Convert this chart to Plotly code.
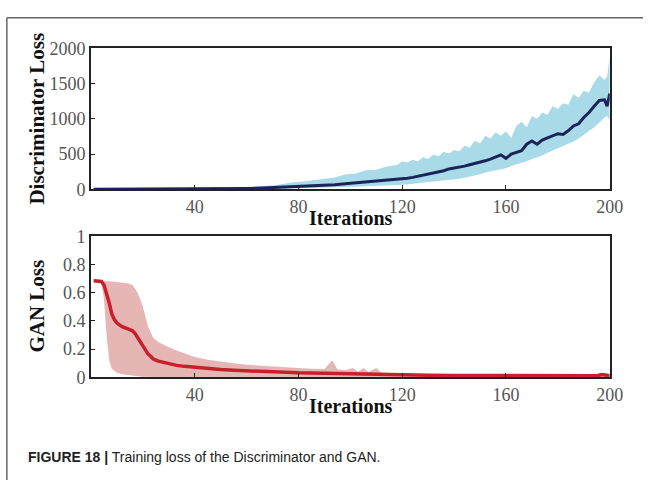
import plotly.graph_objects as go

# Discriminator loss: mean and spread over training iterations
disc_iter = [1, 10, 20, 30, 40, 50, 60, 66, 70, 74, 78, 82, 86, 90, 94, 98, 102, 106, 110,
             114, 118, 120, 122, 124, 126, 128, 130, 132, 134, 136, 138, 140, 142, 144, 146,
             148, 150, 152, 154, 156, 158, 160, 162, 164, 166, 168, 170, 172, 174, 176, 178,
             180, 182, 184, 186, 188, 190, 192, 194, 196, 198, 199, 200]
disc_mean = [0, 1, 1, 2, 3, 6, 12, 18, 24, 30, 38, 44, 50, 58, 66, 80, 92, 105, 118,
             135, 145, 150, 158, 170, 185, 200, 215, 235, 250, 265, 290, 300, 315, 330, 350,
             365, 385, 405, 430, 460, 490, 440, 500, 525, 550, 640, 685, 640, 700, 730, 755,
             790, 780, 830, 900, 930, 1020, 1090, 1180, 1260, 1270, 1180, 1360]
disc_low = [0, 0, 0, 0, 0, 1, 3, 5, 8, 10, 14, 16, 20, 25, 28, 32, 37, 42, 48,
            55, 60, 62, 70, 80, 88, 95, 100, 110, 115, 120, 130, 140, 150, 165, 180,
            195, 215, 240, 255, 270, 290, 300, 330, 350, 375, 400, 430, 450, 480, 520, 550,
            590, 620, 650, 680, 720, 770, 830, 880, 950, 1020, 1040, 980]
disc_high = [0, 2, 3, 5, 8, 14, 28, 40, 55, 75, 100, 110, 130, 145, 170, 210, 225, 270, 280,
             325, 345, 400, 380, 420, 400, 455, 430, 495, 470, 530, 510, 560, 540, 620, 590,
             690, 650, 760, 720, 810, 760, 820, 730, 900, 960, 880, 1040, 1000, 1090, 1060, 1180,
             1140, 1220, 1200, 1350, 1300, 1400, 1370, 1520, 1620, 1550, 1600, 1880]

# GAN loss: mean and spread over training iterations
gan_iter = [1, 3, 4, 5, 6, 7, 8, 9, 10, 12, 14, 16, 17, 18, 19, 20, 21, 22, 23, 24, 26, 28,
            30, 33, 36, 40, 45, 50, 55, 60, 65, 70, 75, 80, 85, 90, 93, 95, 98, 101, 103,
            105, 107, 110, 112, 115, 120, 130, 140, 150, 160, 170, 180, 190, 195, 197, 200]
gan_mean = [0.685, 0.685, 0.68, 0.655, 0.6, 0.53, 0.45, 0.41, 0.385, 0.36, 0.345, 0.33, 0.31,
            0.28, 0.25, 0.215, 0.19, 0.165, 0.15, 0.13, 0.115, 0.105, 0.095, 0.085, 0.078, 0.07,
            0.062, 0.055, 0.05, 0.048, 0.045, 0.04, 0.036, 0.032, 0.03, 0.028, 0.026, 0.025,
            0.024, 0.023, 0.022, 0.021, 0.02, 0.02, 0.019, 0.018, 0.017, 0.015, 0.014, 0.013,
            0.012, 0.012, 0.011, 0.011, 0.012, 0.02, 0.012]
gan_low = [0.685, 0.685, 0.67, 0.55, 0.3, 0.12, 0.06, 0.045, 0.032, 0.022, 0.016, 0.012, 0.01,
           0.008, 0.006, 0.005, 0.004, 0.003, 0.002, 0.002, 0.001, 0.0, 0.0, 0.0, 0.0, 0.0,
           0.0, 0.0, 0.0, 0.0, 0.0, 0.0, 0.0, 0.0, 0.0, 0.0, 0.0, 0.0, 0.0, 0.0, 0.0, 0.0,
           0.0, 0.0, 0.0, 0.0, 0.0, 0.0, 0.0, 0.0, 0.0, 0.0, 0.0, 0.0, 0.0, 0.0, 0.0]
gan_high = [0.685, 0.685, 0.685, 0.684, 0.683, 0.682, 0.68, 0.678, 0.676, 0.674, 0.668, 0.655,
            0.63, 0.6, 0.55, 0.5, 0.43, 0.36, 0.32, 0.28, 0.25, 0.23, 0.213, 0.19, 0.17, 0.145,
            0.125, 0.11, 0.1, 0.09, 0.083, 0.077, 0.072, 0.066, 0.062, 0.06, 0.122, 0.058,
            0.05, 0.066, 0.04, 0.066, 0.038, 0.066, 0.032, 0.03, 0.026, 0.023, 0.021, 0.019,
            0.018, 0.017, 0.016, 0.016, 0.016, 0.025, 0.016]

disc_ticks = [0, 500, 1000, 1500, 2000]
gan_ticks = [0, 0.2, 0.4, 0.6, 0.8, 1]
iter_ticks = [40, 80, 120, 160, 200]

NAVY = "#1b2358"
BAND_BLUE = "#a9dae8"
RED = "#c8202b"
BAND_RED = "#e6b6b4"
SERIF = "Liberation Serif"

fig = go.Figure()

# top panel: discriminator
fig.add_trace(go.Scatter(x=disc_iter, y=disc_low, mode="lines", line=dict(width=0, color=BAND_BLUE),
                         showlegend=False, hoverinfo="skip", xaxis="x", yaxis="y"))
fig.add_trace(go.Scatter(x=disc_iter, y=disc_high, mode="lines", line=dict(width=0, color=BAND_BLUE),
                         fill="tonexty", fillcolor=BAND_BLUE, showlegend=False, hoverinfo="skip",
                         xaxis="x", yaxis="y"))
fig.add_trace(go.Scatter(x=disc_iter, y=disc_mean, mode="lines", line=dict(width=3, color=NAVY),
                         showlegend=False, xaxis="x", yaxis="y"))

# bottom panel: GAN
fig.add_trace(go.Scatter(x=gan_iter, y=gan_low, mode="lines", line=dict(width=0, color=BAND_RED),
                         showlegend=False, hoverinfo="skip", xaxis="x2", yaxis="y2"))
fig.add_trace(go.Scatter(x=gan_iter, y=gan_high, mode="lines", line=dict(width=0, color=BAND_RED),
                         fill="tonexty", fillcolor=BAND_RED, showlegend=False, hoverinfo="skip",
                         xaxis="x2", yaxis="y2"))
fig.add_trace(go.Scatter(x=gan_iter, y=gan_mean, mode="lines", line=dict(width=3.5, color=RED),
                         showlegend=False, xaxis="x2", yaxis="y2"))

W, H = 657, 490
xdom = [93 / W, 623 / W]
top_dom = [1 - 187 / H, 1 - 40 / H]
bot_dom = [1 - 383 / H, 1 - 236 / H]


def axis_style():
    return dict(showline=True, linecolor="#222222", linewidth=2, mirror=True,
                showgrid=False, zeroline=False, ticks="inside", ticklen=4,
                tickcolor="#222222", tickwidth=1,
                tickfont=dict(family=SERIF, size=18, color="#555555"))


fig.update_layout(
    width=W, height=H,
    autosize=False,
    margin=dict(l=0, r=0, t=0, b=0, pad=0),
    font=dict(family=SERIF, size=18, color="#555555"),
    paper_bgcolor="white", plot_bgcolor="white",
    xaxis=dict(domain=xdom, range=[0, 200], tickvals=iter_ticks, anchor="y", **axis_style()),
    yaxis=dict(domain=top_dom, range=[0, 2000], tickvals=disc_ticks, anchor="x", **axis_style()),
    xaxis2=dict(domain=xdom, range=[0, 200], tickvals=iter_ticks, anchor="y2", **axis_style()),
    yaxis2=dict(domain=bot_dom, range=[0, 1], tickvals=gan_ticks, anchor="x2", **axis_style()),
)

title_font = dict(family=SERIF, size=21, color="#111111")
iter_font = dict(family=SERIF, size=20, color="#111111")
fig.add_annotation(text="<b>Discriminator Loss</b>", x=38 / W, y=1 - 113 / H, xref="paper", yref="paper",
                   textangle=-90, showarrow=False, font=title_font, xanchor="center", yanchor="middle")
fig.add_annotation(text="<b>GAN Loss</b>", x=38 / W, y=1 - 309 / H, xref="paper", yref="paper",
                   textangle=-90, showarrow=False, font=title_font, xanchor="center", yanchor="middle")
fig.add_annotation(text="<b>Iterations</b>", x=359 / W, y=1 - 217 / H, xref="paper", yref="paper",
                   showarrow=False, font=iter_font, xanchor="center", yanchor="middle")
fig.add_annotation(text="<b>Iterations</b>", x=359 / W, y=1 - 413 / H, xref="paper", yref="paper",
                   showarrow=False, font=iter_font, xanchor="center", yanchor="middle")

# caption
fig.add_annotation(
    text="<b>FIGURE 18 |</b> Training loss of the Discriminator and GAN.",
    x=27 / W, y=1 - 466 / H, xref="paper", yref="paper", showarrow=False,
    xanchor="left", yanchor="middle",
    font=dict(family="Liberation Sans", size=14, color="#222222"))

# outer frame: top and left rules
fig.add_shape(type="line", xref="paper", yref="paper", x0=7 / W, x1=1, y0=1 - 8 / H, y1=1 - 8 / H,
              line=dict(color="#666666", width=1.5))
fig.add_shape(type="line", xref="paper", yref="paper", x0=7 / W, x1=7 / W, y0=0, y1=1 - 8 / H,
              line=dict(color="#666666", width=1.5))

fig.write_html("out.html")
